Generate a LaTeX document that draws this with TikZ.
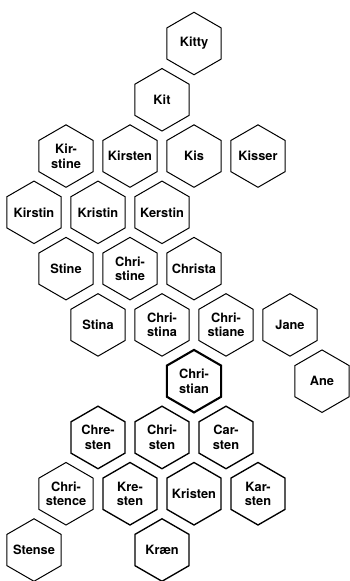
\documentclass[tikz,border=0pt]{standalone}
\usepackage{fontspec}
\setmainfont{TeX Gyre Heros}
\usetikzlibrary{shapes.geometric}

\begin{document}
\begin{tikzpicture}[x=32pt, y=-56.28pt,
    hexa/.style={regular polygon, regular polygon sides=6, shape border rotate=30, draw, line width=1pt,
      minimum size=62.5pt, inner xsep=-12pt, inner ysep=0pt, align=center,
      font=\fontsize{12.8}{14.5}\selectfont\bfseries},
    hexmid/.style={hexa, line width=1.35pt},
    hexbold/.style={hexa, line width=2.1pt}]
  \useasboundingbox (-34pt,43.5pt) rectangle (316pt,-537.5pt);
  % top
  \node[hexa] (kitty) at (5,0) {Kitty};
  \node[hexa] (kit) at (4,1) {Kit};
  \node[hexa] (kirstine) at (1,2) {Kir-\\stine};
  \node[hexa] (kirsten) at (3,2) {Kirsten};
  \node[hexa] (kis) at (5,2) {Kis};
  \node[hexa] (kisser) at (7,2) {Kisser};
  \node[hexa] (kirstin) at (0,3) {Kirstin};
  \node[hexa] (kristin) at (2,3) {Kristin};
  \node[hexa] (kerstin) at (4,3) {Kerstin};
  \node[hexa] (stine) at (1,4) {Stine};
  \node[hexa] (christine) at (3,4) {Chri-\\stine};
  \node[hexa] (christa) at (5,4) {Christa};
  \node[hexa] (stina) at (2,5) {Stina};
  \node[hexa] (christina) at (4,5) {Chri-\\stina};
  \node[hexa] (christiane) at (6,5) {Chri-\\stiane};
  \node[hexa] (jane) at (8,5) {Jane};
  % centre
  \node[hexbold] (christian) at (5,6) {Chri-\\stian};
  \node[hexa] (ane) at (9,6) {Ane};
  % bottom
  \node[hexmid] (chresten) at (2,7) {Chre-\\sten};
  \node[hexmid] (christen) at (4,7) {Chri-\\sten};
  \node[hexmid] (carsten) at (6,7) {Car-\\sten};
  \node[hexa] (christence) at (1,8) {Chri-\\stence};
  \node[hexmid] (kresten) at (3,8) {Kre-\\sten};
  \node[hexmid] (kristen) at (5,8) {Kristen};
  \node[hexmid] (karsten) at (7,8) {Kar-\\sten};
  \node[hexa] (stense) at (0,9) {Stense};
  \node[hexmid] (kraen) at (4,9) {Kræn};
\end{tikzpicture}
\end{document}
